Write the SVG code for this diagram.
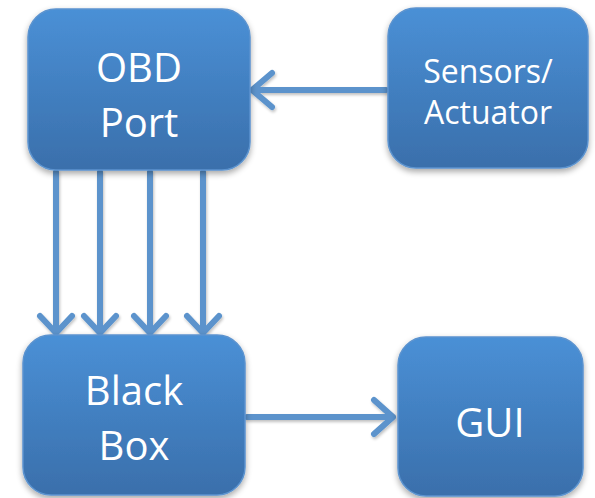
<svg xmlns="http://www.w3.org/2000/svg" width="595" height="498" viewBox="0 0 595 498">
<defs>
<linearGradient id="g" x1="0" y1="0" x2="0" y2="1">
<stop offset="0" stop-color="#4a90d6"/>
<stop offset="1" stop-color="#3a6fab"/>
</linearGradient>
<filter id="sh" x="-10%" y="-10%" width="120%" height="125%">
<feGaussianBlur in="SourceAlpha" stdDeviation="3"/>
<feOffset dx="0" dy="3" result="b"/>
<feComponentTransfer><feFuncA type="linear" slope="0.35"/></feComponentTransfer>
<feMerge><feMergeNode/><feMergeNode in="SourceGraphic"/></feMerge>
</filter>
<filter id="ash" x="-20%" y="-20%" width="140%" height="140%">
<feGaussianBlur in="SourceAlpha" stdDeviation="1.5"/>
<feOffset dx="1" dy="2" result="b"/>
<feComponentTransfer><feFuncA type="linear" slope="0.25"/></feComponentTransfer>
<feMerge><feMergeNode/><feMergeNode in="SourceGraphic"/></feMerge>
</filter>
</defs>
<style>
.box{fill:url(#g);stroke:#5b93cf;stroke-width:1.5;filter:url(#sh)}
.t{font-family:"Open Sans","Liberation Sans",sans-serif;fill:#ffffff;text-anchor:middle}
.big{font-size:40px}
.sm{font-size:32px}
.c{fill:none;stroke:#5b93cc;stroke-width:6;stroke-linecap:round;stroke-linejoin:round}
</style>
<g id="connectors" filter="url(#ash)">
<path class="c" d="M386 90 H252 M272 73 L252 90 L272 107"/>
<path class="c" d="M56 172 V333 M40 316 L56 333 L72 316"/>
<path class="c" d="M100 172 V333 M84 316 L100 333 L116 316"/>
<path class="c" d="M150 172 V333 M134 316 L150 333 L166 316"/>
<path class="c" d="M203 172 V333 M187 316 L203 333 L219 316"/>
<path class="c" d="M247 417 H393 M374 400 L393 417 L374 434"/>
</g>
<g id="obd">
<rect class="box" x="28" y="9" width="222" height="161" rx="28"/>
<text class="t big" x="139" y="82">OBD</text>
<text class="t big" x="139" y="137">Port</text>
</g>
<g id="sensors">
<rect class="box" x="388" y="8" width="200" height="160" rx="28"/>
<text class="t sm" x="488" y="83">Sensors/</text>
<text class="t sm" x="488" y="124">Actuator</text>
</g>
<g id="blackbox">
<rect class="box" x="23" y="335" width="222" height="160" rx="28"/>
<text class="t big" x="134" y="405">Black</text>
<text class="t big" x="134" y="460">Box</text>
</g>
<g id="gui">
<rect class="box" x="398" y="337" width="185" height="159" rx="28"/>
<text class="t big" x="490" y="437">GUI</text>
</g>
</svg>
